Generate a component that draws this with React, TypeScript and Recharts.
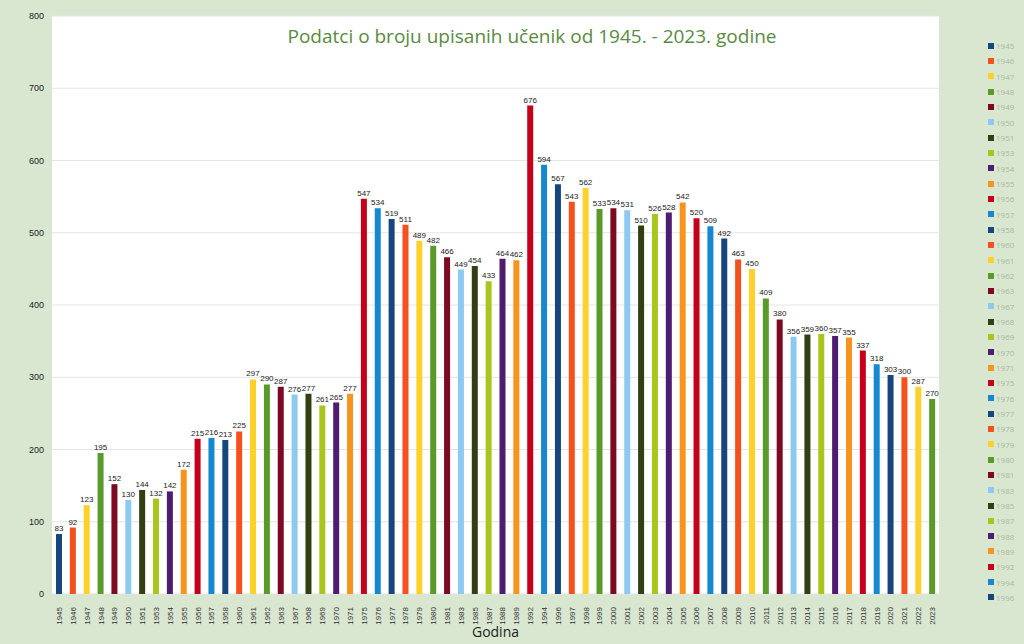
import { BarChart, Bar, XAxis, YAxis, CartesianGrid, Cell, LabelList, Legend } from 'recharts';

const years = [
  '1945', '1946', '1947', '1948', '1949', '1950', '1951', '1953', '1954', '1955', '1956', '1957',
  '1958', '1960', '1961', '1962', '1963', '1967', '1968', '1969', '1970', '1971', '1975', '1976',
  '1977', '1978', '1979', '1980', '1981', '1983', '1985', '1987', '1988', '1989', '1992', '1994',
  '1996', '1997', '1998', '1999', '2000', '2001', '2002', '2003', '2004', '2005', '2006', '2007',
  '2008', '2009', '2010', '2011', '2012', '2013', '2014', '2015', '2016', '2017', '2018', '2019',
  '2020', '2021', '2022', '2023',
];

const students = [
  83, 92, 123, 195, 152, 130, 144, 132, 142, 172, 215, 216,
  213, 225, 297, 290, 287, 276, 277, 261, 265, 277, 547, 534,
  519, 511, 489, 482, 466, 449, 454, 433, 464, 462, 676, 594,
  567, 543, 562, 533, 534, 531, 510, 526, 528, 542, 520, 509,
  492, 463, 450, 409, 380, 356, 359, 360, 357, 355, 337, 318,
  303, 300, 287, 270,
];

// the legend in the original is cut off after 1996
const legendYears = years.slice(0, 37);

const yTicks = [0, 100, 200, 300, 400, 500, 600, 700, 800];

const palette = [
  '#17467f', '#f4511e', '#fcd12a', '#5a9a2a', '#7c0a22', '#8ec9f0',
  '#323f12', '#a8c61d', '#4e1d70', '#f7941d', '#c4001b', '#1688d0',
];

const data = years.map((year, i) => ({ year, value: students[i] }));

const YearTick = (props: any) => {
  const { x, y, payload } = props;
  return (
    <text
      x={x + 3}
      y={y + 5}
      transform={`rotate(-90 ${x + 3} ${y + 5})`}
      textAnchor="end"
      fontSize={8}
      fill="#333"
      fontFamily="Arial, 'Liberation Sans', sans-serif"
    >
      {payload.value}
    </text>
  );
};

const YearLegend = () => (
  <div style={{ display: 'flex', flexDirection: 'column' }}>
    {legendYears.map((y, i) => (
      <div
        key={y}
        style={{
          height: 15.33,
          display: 'flex',
          alignItems: 'center',
          fontSize: 8,
          color: '#a9b8a0',
          fontFamily: "'Open Sans', sans-serif",
        }}
      >
        <span style={{ width: 6, height: 6, background: palette[i % palette.length], marginRight: 2 }} />
        {y}
      </div>
    ))}
  </div>
);

export default function App() {
  return (
    <div style={{ position: 'absolute', left: 0, top: 0, width: 1024, height: 644, background: '#d9e7d1' }}>
      <div
        style={{
          position: 'absolute',
          left: 52,
          top: 23,
          width: 960,
          textAlign: 'center',
          fontSize: 19,
          color: '#5b8a42',
          fontFamily: "'Open Sans', sans-serif",
          zIndex: 2,
        }}
      >
        Podatci o broju upisanih učenik od 1945. - 2023. godine
      </div>
      <BarChart
        width={1024}
        height={644}
        data={data}
        margin={{ top: 16, right: 49, bottom: 20, left: 8 }}
        barCategoryGap={0}
      >
        <CartesianGrid vertical={false} stroke="#e4e4e4" fill="#ffffff" />
        <XAxis
          dataKey="year"
          interval={0}
          height={30}
          axisLine={false}
          tickLine={false}
          tick={<YearTick />}
          label={{
            value: 'Godina',
            position: 'bottom',
            offset: 3,
            fontSize: 14,
            fill: '#222',
            fontFamily: "'Comic Sans MS', 'Open Sans', sans-serif",
          }}
        />
        <YAxis
          width={44}
          domain={[0, 800]}
          ticks={yTicks}
          axisLine={false}
          tickLine={false}
          tick={{ fontSize: 9, fill: '#222', fontFamily: "Arial, 'Liberation Sans', sans-serif" }}
        />
        <Legend
          layout="vertical"
          align="right"
          verticalAlign="top"
          content={<YearLegend />}
          wrapperStyle={{ position: 'absolute', left: 988, top: 38, width: 36 }}
        />
        <Bar dataKey="value" barSize={6} isAnimationActive={false}>
          {data.map((d, i) => (
            <Cell key={d.year} fill={palette[i % palette.length]} />
          ))}
          <LabelList
            dataKey="value"
            position="top"
            offset={3}
            fontSize={8}
            fill="#222"
            fontFamily="Arial, 'Liberation Sans', sans-serif"
          />
        </Bar>
      </BarChart>
    </div>
  );
}
